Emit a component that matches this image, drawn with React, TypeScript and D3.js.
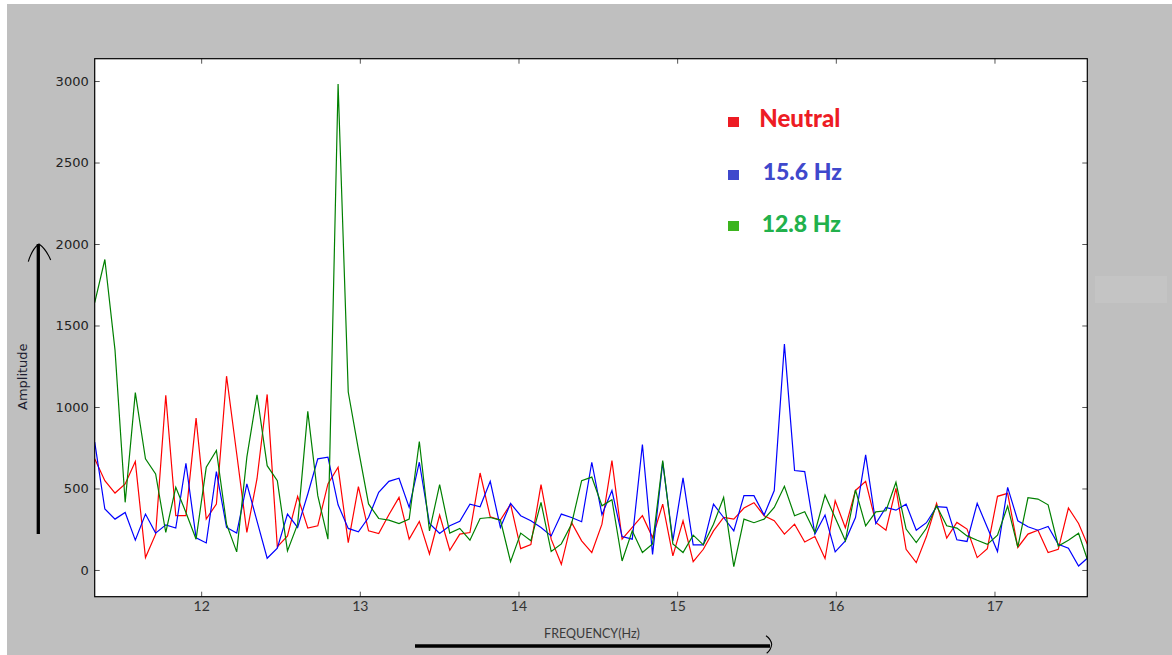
import { useEffect, useRef } from 'react'
import { axisBottom, axisLeft, axisRight, axisTop, line, scaleLinear, select } from 'd3'

// FFT bin centres (Hz)
const frequencies = [
  11.329, 11.393, 11.457, 11.521, 11.585, 11.649, 11.713, 11.777, 11.84, 11.904, 11.968, 12.032, 12.096, 12.16,
  12.224, 12.288, 12.352, 12.416, 12.48, 12.544, 12.608, 12.672, 12.735, 12.799, 12.863, 12.927, 12.991, 13.055,
  13.119, 13.183, 13.247, 13.311, 13.375, 13.439, 13.503, 13.567, 13.63, 13.694, 13.758, 13.822, 13.886, 13.95,
  14.014, 14.078, 14.142, 14.206, 14.27, 14.334, 14.398, 14.462, 14.526, 14.589, 14.653, 14.717, 14.781, 14.845,
  14.909, 14.973, 15.037, 15.101, 15.165, 15.229, 15.293, 15.357, 15.421, 15.484, 15.548, 15.612, 15.676, 15.74,
  15.804, 15.868, 15.932, 15.996, 16.06, 16.124, 16.188, 16.252, 16.316, 16.379, 16.443, 16.507, 16.571, 16.635,
  16.699, 16.763, 16.827, 16.891, 16.955, 17.019, 17.083, 17.147, 17.211, 17.274, 17.338, 17.402, 17.466, 17.53,
  17.594,
]

const neutral = [
  682, 548, 472, 528, 665, 76, 220, 1072, 333, 333, 932, 312, 405, 1189, 713, 230, 560, 1077, 142, 209, 452, 257,
  271, 528, 630, 168, 511, 240, 224, 339, 445, 189, 298, 98, 337, 121, 220, 230, 595, 326, 306, 404, 131, 156, 524,
  189, 35, 292, 179, 107, 281, 671, 189, 261, 333, 199, 404, 86, 302, 51, 127, 240, 322, 312, 380, 413, 333, 302,
  220, 281, 172, 205, 70, 425, 259, 488, 544, 292, 244, 501, 127, 45, 205, 409, 195, 292, 251, 76, 131, 452, 470,
  138, 220, 244, 107, 127, 380, 285, 138,
]

const stim156 = [
  784, 374, 312, 353, 183, 343, 226, 277, 257, 655, 197, 166, 604, 261, 226, 528, 300, 72, 134, 343, 261, 466, 682,
  692, 400, 255, 234, 322, 476, 544, 563, 384, 661, 285, 224, 271, 298, 404, 388, 544, 261, 408, 333, 302, 261, 209,
  343, 322, 296, 661, 339, 487, 205, 189, 770, 96, 661, 179, 565, 154, 154, 404, 322, 240, 456, 456, 337, 487, 1386,
  610, 604, 220, 337, 111, 179, 322, 706, 285, 384, 367, 404, 244, 290, 388, 384, 185, 175, 409, 261, 113, 507, 302,
  265, 244, 267, 158, 133, 24, 80,
]

const stim128 = [
  1640, 1905, 1349, 415, 1088, 682, 589, 230, 507, 353, 189, 630, 733, 281, 111, 692, 1075, 640, 548, 117, 281, 973,
  456, 189, 2982, 1092, 740, 405, 316, 306, 285, 312, 788, 240, 524, 226, 255, 183, 316, 322, 306, 51, 226, 179, 415,
  113, 160, 281, 548, 570, 394, 431, 55, 240, 107, 160, 671, 160, 107, 214, 154, 281, 445, 20, 312, 290, 312, 384,
  513, 333, 357, 230, 460, 320, 179, 491, 271, 357, 363, 538, 251, 168, 256, 394, 271, 257, 209, 182, 157, 214, 392,
  140, 443, 435, 400, 147, 183, 225, 40,
]

const yTicks = [0, 500, 1000, 1500, 2000, 2500, 3000]
const xTicks = [12, 13, 14, 15, 16, 17]
const legendLabels = ['Neutral', '15.6 Hz', '12.8 Hz']

const W = 1172
const H = 655

function Spectrum() {
  const ref = useRef<SVGSVGElement>(null)

  useEffect(() => {
    if (!ref.current) return
    const svg = select(ref.current)
    svg.selectAll('*').remove()

    const frame = { left: 94.7, right: 1087.3, top: 58.7, bottom: 596.7 }
    const x = scaleLinear().domain([11.329, 17.585]).range([frame.left, frame.right])
    const y = scaleLinear().domain([-164, 3137]).range([frame.bottom, frame.top])
    const plain = (d: number | { valueOf(): number }) => String(+d)

    // background (screenshot frame)
    svg.append('rect').attr('width', W).attr('height', H).attr('fill', '#bfbfbf')
    svg.append('rect').attr('width', W).attr('height', 4).attr('fill', '#ffffff')
    svg.append('rect').attr('width', 7).attr('height', H).attr('fill', '#ffffff')
    svg.append('rect').attr('x', 1095).attr('y', 276).attr('width', 72).attr('height', 27).attr('fill', '#c4c4c4')

    svg
      .append('rect')
      .attr('x', frame.left)
      .attr('y', frame.top)
      .attr('width', frame.right - frame.left)
      .attr('height', frame.bottom - frame.top)
      .attr('fill', '#ffffff')

    svg
      .append('clipPath')
      .attr('id', 'plot-clip')
      .append('rect')
      .attr('x', frame.left)
      .attr('y', frame.top)
      .attr('width', frame.right - frame.left)
      .attr('height', frame.bottom - frame.top)

    const series = [
      { values: neutral, color: '#ff0000' },
      { values: stim156, color: '#0000ff' },
      { values: stim128, color: '#008000' },
    ]
    const path = line<number>()
      .x((_, i) => x(frequencies[i]))
      .y((d) => y(d))

    const lines = svg.append('g').attr('clip-path', 'url(#plot-clip)')
    series.forEach((s) => {
      lines
        .append('path')
        .datum(s.values)
        .attr('d', path)
        .attr('fill', 'none')
        .attr('stroke', s.color)
        .attr('stroke-width', 1.2)
        .attr('stroke-linejoin', 'miter')
    })

    // inward ticks on all four sides
    const left = svg
      .append('g')
      .attr('transform', `translate(${frame.left},0)`)
      .call(axisLeft(y).tickValues(yTicks).tickFormat(plain).tickSizeInner(-5).tickSizeOuter(0).tickPadding(6))
    left.select('.domain').remove()
    left.selectAll('line').attr('stroke', '#555')
    left
      .selectAll('text')
      .attr('font-family', 'DejaVu Sans')
      .attr('font-size', 13)
      .attr('fill', '#222')

    const right = svg
      .append('g')
      .attr('transform', `translate(${frame.right},0)`)
      .call(axisRight(y).tickValues(yTicks).tickSizeInner(-5).tickSizeOuter(0).tickFormat(() => ''))
    right.select('.domain').remove()
    right.selectAll('line').attr('stroke', '#555')

    const bottom = svg
      .append('g')
      .attr('transform', `translate(0,${frame.bottom})`)
      .call(axisBottom(x).tickValues(xTicks).tickFormat(plain).tickSizeInner(-5).tickSizeOuter(0).tickPadding(4.5))
    bottom.select('.domain').remove()
    bottom.selectAll('line').attr('stroke', '#555')
    bottom
      .selectAll('text')
      .attr('font-family', 'Lato')
      .attr('font-size', 14)
      .attr('fill', '#333')

    const top = svg
      .append('g')
      .attr('transform', `translate(0,${frame.top})`)
      .call(axisTop(x).tickValues(xTicks).tickSizeInner(-5).tickSizeOuter(0).tickFormat(() => ''))
    top.select('.domain').remove()
    top.selectAll('line').attr('stroke', '#555')

    svg
      .append('rect')
      .attr('x', frame.left)
      .attr('y', frame.top)
      .attr('width', frame.right - frame.left)
      .attr('height', frame.bottom - frame.top)
      .attr('fill', 'none')
      .attr('stroke', '#000')
      .attr('stroke-width', 1.2)

    // axis titles and hand-drawn arrows
    svg
      .append('text')
      .attr('transform', 'translate(22,376.7) rotate(-90)')
      .attr('text-anchor', 'middle')
      .attr('dominant-baseline', 'central')
      .attr('font-family', 'DejaVu Sans')
      .attr('font-size', 13)
      .attr('fill', '#1e1e30')
      .text('Amplitude')

    svg
      .append('text')
      .attr('x', 592)
      .attr('y', 637.5)
      .attr('text-anchor', 'middle')
      .attr('font-family', 'Lato')
      .attr('font-size', 12.5)
      .attr('fill', '#3a3a3a')
      .text('FREQUENCY(Hz)')

    svg.append('line').attr('x1', 38.3).attr('x2', 38.3).attr('y1', 244).attr('y2', 534).attr('stroke', '#000').attr('stroke-width', 3.3)
    svg
      .append('path')
      .attr('d', 'M28.3,261.7 Q32,249 39,244 Q46,249 50.7,260')
      .attr('fill', 'none')
      .attr('stroke', '#000')
      .attr('stroke-width', 1.1)

    svg.append('line').attr('x1', 415).attr('x2', 770).attr('y1', 646).attr('y2', 646).attr('stroke', '#000').attr('stroke-width', 3.3)
    svg
      .append('path')
      .attr('d', 'M766,635.7 Q771,639 771.7,644.3 Q771,650 766.7,653.3')
      .attr('fill', 'none')
      .attr('stroke', '#000')
      .attr('stroke-width', 1.1)

    // legend pasted on the figure
    const legend = [
      { square: '#ed1c24', text: '#ed1c24', sqY: 117, tx: 759.3, ty: 126.5, size: 24 },
      { square: '#3f48cc', text: '#3f48cc', sqY: 170, tx: 762.7, ty: 180, size: 23 },
      { square: '#3cb41e', text: '#22b14c', sqY: 221, tx: 761.7, ty: 231.5, size: 23 },
    ]
    legend.forEach((l, i) => {
      svg.append('rect').attr('x', 728).attr('y', l.sqY).attr('width', 11).attr('height', 10).attr('fill', l.square)
      svg
        .append('text')
        .attr('x', l.tx)
        .attr('y', l.ty)
        .attr('font-family', 'Lato')
        .attr('font-weight', 900)
        .attr('font-size', l.size)
        .attr('fill', l.text)
        .text(legendLabels[i])
    })
  }, [])

  return <svg ref={ref} width={W} height={H} style={{ position: 'absolute', left: 0, top: 0, display: 'block' }} />
}

export default function App() {
  return <Spectrum />
}
